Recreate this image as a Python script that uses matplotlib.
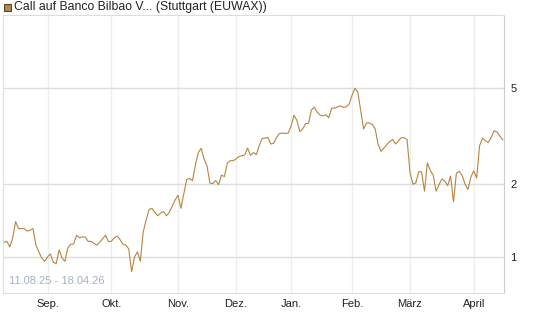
import matplotlib
matplotlib.use("Agg")
import matplotlib.pyplot as plt
from matplotlib.patches import Rectangle
import numpy as np
import pandas as pd

plt.rcParams["font.family"] = ["Liberation Sans", "DejaVu Sans"]

# trading days 11.08.25 - 17.04.26 (Stuttgart closed on these days)
holidays = ["2025-12-24", "2025-12-25", "2025-12-26", "2025-12-31",
            "2026-01-01", "2026-04-03", "2026-04-06"]
days = pd.bdate_range("2025-08-11", "2026-04-17")
days = days[~days.isin(pd.to_datetime(holidays))]

# closing prices, one per trading day
prices = [
    1.15, 1.16, 1.10, 1.20, 1.40, 1.31, 1.31, 1.31, 1.28, 1.29,
    1.31, 1.12, 1.05, 0.99, 0.96, 1.00, 1.03, 0.95, 0.94, 1.07,
    0.99, 0.96, 1.09, 1.13, 1.13, 1.23, 1.20, 1.21, 1.21, 1.16,
    1.16, 1.14, 1.12, 1.15, 1.19, 1.23, 1.16, 1.16, 1.20, 1.22,
    1.18, 1.13, 1.12, 1.08, 0.87, 1.00, 1.05, 0.96, 1.27, 1.42,
    1.57, 1.59, 1.53, 1.48, 1.52, 1.54, 1.48, 1.53, 1.62, 1.72,
    1.80, 1.59, 1.82, 2.09, 2.11, 2.07, 2.40, 2.70, 2.81, 2.54,
    2.38, 2.02, 2.01, 2.07, 1.99, 2.18, 2.15, 2.44, 2.50, 2.50,
    2.54, 2.60, 2.62, 2.64, 2.82, 2.63, 2.70, 2.65, 2.88, 3.09,
    3.10, 3.12, 2.93, 2.95, 3.12, 3.24, 3.25, 3.24, 3.25, 3.48,
    3.85, 3.67, 3.30, 3.38, 3.56, 3.56, 4.05, 4.16, 3.97, 3.86,
    3.83, 3.87, 3.76, 4.12, 4.12, 4.17, 4.21, 4.16, 4.17, 4.28,
    4.65, 4.98, 4.81, 4.02, 3.38, 3.58, 3.58, 3.53, 3.38, 2.92,
    2.73, 2.82, 2.91, 3.00, 3.06, 2.93, 3.02, 3.11, 3.11, 3.06,
    2.23, 2.00, 2.02, 2.25, 2.25, 1.87, 2.45, 2.28, 2.18, 1.87,
    1.99, 2.10, 2.06, 1.97, 2.16, 1.69, 2.22, 2.26, 2.17, 2.00,
    1.90, 2.14, 2.27, 2.12, 2.88, 3.10, 3.02, 2.97, 3.12, 3.32,
    3.29, 3.16, 3.05,
]

month_labels = ["Sep.", "Okt.", "Nov.", "Dez.", "Jan.", "Feb.", "März", "April"]
y_ticks = [1, 2, 5]
legend_label = "Call auf Banco Bilbao V... (Stuttgart (EUWAX))"
range_label = "11.08.25 - 18.04.26"

line_color = "#B5863E"

idx = np.arange(len(prices))
months = days.to_period("M")
month_pos = [int(np.argmax(months == p)) for p in pd.period_range("2025-09", "2026-04", freq="M")]

fig = plt.figure(figsize=(5.45, 3.27), dpi=100)
ax = fig.add_axes([3 / 545, 34 / 327, 500.5 / 545, 278 / 327])

ax.plot(idx, prices, color=line_color, linewidth=0.8)

ax.set_yscale("log")
ax.set_ylim(0.71, 10)
ax.set_xlim(-0.35, len(prices) - 0.75)

ax.set_yticks(y_ticks)
ax.set_yticklabels([str(t) for t in y_ticks])
ax.yaxis.set_minor_locator(matplotlib.ticker.NullLocator())
ax.yaxis.tick_right()
ax.tick_params(axis="y", length=0, pad=5, labelsize=8, labelcolor="#222222")

ax.set_xticks(month_pos)
ax.set_xticklabels(month_labels)
ax.tick_params(axis="x", length=0, pad=4, labelsize=8, labelcolor="#222222")

ax.grid(axis="y", color="#DDDDDD", linewidth=1)
ax.grid(axis="x", color="#EEEEEE", linewidth=1)
ax.set_axisbelow(True)

for side in ["top", "left", "bottom"]:
    ax.spines[side].set_color("#DDDDDD")
ax.spines["right"].set_color("#CCCCCC")

ax.text(0.011, 0.025, range_label, transform=ax.transAxes, fontsize=8,
        color="#A3B1C6", ha="left", va="bottom")

# legend entry at the top
fig.patches.append(Rectangle((3.5 / 545, 1 - 11 / 327), 7 / 545, 7 / 327,
                             transform=fig.transFigure, facecolor="#B08850",
                             edgecolor="#5A4525", linewidth=0.8))
fig.text(14.5 / 545, 1 - 7.3 / 327, legend_label, fontsize=8.8, color="#222222",
         ha="left", va="center")

fig.savefig("out.png", dpi=100)
